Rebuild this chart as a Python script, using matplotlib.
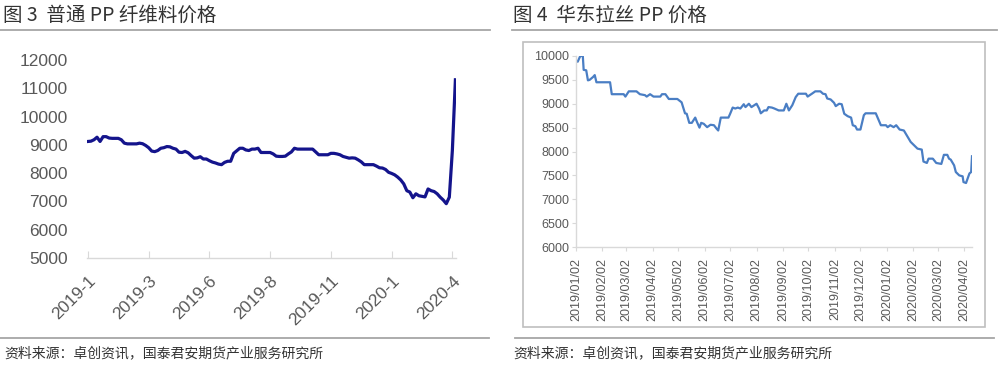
import matplotlib
matplotlib.use("Agg")
import matplotlib.pyplot as plt
from matplotlib.lines import Line2D
from matplotlib.patches import Rectangle
import pandas as pd
import numpy as np

plt.rcParams['font.family'] = ['Liberation Sans', 'Noto Sans CJK SC', 'DejaVu Sans']

# ---------------- Data: Fig 3 (普通 PP 纤维料价格), category axis ----------------
fiber_values = [
    9120, 9130, 9180, 9270, 9120, 9290, 9290, 9240, 9230, 9230,
    9230, 9180, 9060, 9035, 9035, 9035, 9035, 9060, 9040, 8980,
    8900, 8780, 8760, 8800, 8880, 8900, 8940, 8930, 8880, 8850,
    8740, 8730, 8770, 8720, 8620, 8530, 8540, 8580, 8500, 8500,
    8440, 8390, 8360, 8320, 8300, 8380, 8420, 8420, 8700, 8790,
    8880, 8880, 8820, 8800, 8850, 8850, 8880, 8730, 8730, 8730,
    8730, 8680, 8600, 8590, 8590, 8600, 8680, 8750, 8880, 8850,
    8850, 8850, 8850, 8850, 8850, 8750, 8650, 8650, 8650, 8650,
    8700, 8700, 8680, 8650, 8590, 8560, 8530, 8540, 8530, 8470,
    8400, 8300, 8300, 8300, 8300, 8250, 8190, 8180, 8130, 8030,
    7990, 7940, 7860, 7760, 7620, 7380, 7330, 7130, 7270, 7200,
    7180, 7160, 7440, 7380, 7350, 7270, 7150, 7050, 6920, 7150,
    8800, 11300,
]
fiber_tick_labels = ['2019-1', '2019-3', '2019-6', '2019-8', '2019-11', '2020-1', '2020-4']
fiber_yticks = [5000, 6000, 7000, 8000, 9000, 10000, 11000, 12000]

# ---------------- Data: Fig 4 (华东拉丝 PP 价格), date axis ----------------
raffia_dates = [
    '2019-01-02', '2019-01-04', '2019-01-07', '2019-01-10', '2019-01-11', '2019-01-14',
    '2019-01-16', '2019-01-18', '2019-01-22', '2019-01-24', '2019-01-26', '2019-02-11',
    '2019-02-13', '2019-02-27', '2019-03-01', '2019-03-05', '2019-03-14', '2019-03-18',
    '2019-03-24', '2019-03-26', '2019-03-30', '2019-04-03', '2019-04-11', '2019-04-13',
    '2019-04-17', '2019-04-21', '2019-05-01', '2019-05-06', '2019-05-10', '2019-05-12',
    '2019-05-15', '2019-05-18', '2019-05-22', '2019-05-24', '2019-05-27', '2019-05-29',
    '2019-06-01', '2019-06-05', '2019-06-09', '2019-06-13', '2019-06-16', '2019-06-18',
    '2019-06-21', '2019-06-30', '2019-07-02', '2019-07-05', '2019-07-08', '2019-07-11',
    '2019-07-14', '2019-07-18', '2019-07-20', '2019-07-24', '2019-07-27', '2019-08-02',
    '2019-08-05', '2019-08-07', '2019-08-11', '2019-08-14', '2019-08-16', '2019-08-20',
    '2019-08-23', '2019-08-28', '2019-09-03', '2019-09-06', '2019-09-09', '2019-09-13',
    '2019-09-17', '2019-09-20', '2019-09-29', '2019-10-01', '2019-10-06', '2019-10-10',
    '2019-10-16', '2019-10-19', '2019-10-22', '2019-10-24', '2019-10-28', '2019-11-01',
    '2019-11-03', '2019-11-07', '2019-11-10', '2019-11-13', '2019-11-17', '2019-11-21',
    '2019-11-23', '2019-11-26', '2019-11-28', '2019-12-02', '2019-12-06', '2019-12-08',
    '2019-12-20', '2019-12-26', '2020-01-01', '2020-01-03', '2020-01-06', '2020-01-10',
    '2020-01-13', '2020-01-17', '2020-01-22', '2020-01-26', '2020-01-30', '2020-02-03',
    '2020-02-07', '2020-02-12', '2020-02-14', '2020-02-18', '2020-02-20', '2020-02-25',
    '2020-02-29', '2020-03-06', '2020-03-09', '2020-03-13', '2020-03-15', '2020-03-17',
    '2020-03-21', '2020-03-23', '2020-03-27', '2020-03-31', '2020-04-01', '2020-04-04',
    '2020-04-08', '2020-04-10', '2020-04-11',
]
raffia_values = [
    9900, 9880, 10000, 10000, 9710, 9700,
    9490, 9500, 9560, 9600, 9450, 9450,
    9200, 9200, 9150, 9260, 9260, 9200,
    9180, 9150, 9200, 9150, 9150, 9200,
    9200, 9100, 9100, 9030, 8800, 8790,
    8600, 8600, 8710, 8620, 8500, 8600,
    8580, 8510, 8560, 8550, 8480, 8440,
    8710, 8710, 8790, 8920, 8900, 8920,
    8900, 8990, 8930, 9000, 8930, 9000,
    8900, 8800, 8860, 8860, 8930, 8920,
    8900, 8860, 8860, 9000, 8860, 8970,
    9140, 9210, 9210, 9150, 9210, 9260,
    9260, 9210, 9200, 9110, 9090, 9020,
    8950, 9000, 8990, 8790, 8740, 8710,
    8550, 8530, 8460, 8460, 8760, 8800,
    8800, 8550, 8550, 8510, 8550, 8510,
    8550, 8460, 8440, 8320, 8200, 8130,
    8060, 8040, 7790, 7760, 7850, 7850,
    7760, 7740, 7930, 7930, 7850, 7830,
    7710, 7570, 7500, 7480, 7360, 7340,
    7540, 7570, 7900,
]
raffia_tick_labels = ['2019/01/02', '2019/02/02', '2019/03/02', '2019/04/02', '2019/05/02',
                      '2019/06/02', '2019/07/02', '2019/08/02', '2019/09/02', '2019/10/02',
                      '2019/11/02', '2019/12/02', '2020/01/02', '2020/02/02', '2020/03/02',
                      '2020/04/02']
raffia_yticks = [6000, 6500, 7000, 7500, 8000, 8500, 9000, 9500, 10000]

W, H = 1000, 368
fig = plt.figure(figsize=(10, 3.68), dpi=100)
fig.patch.set_facecolor('white')

def fx(px):
    return px / W

def fy(py):
    return 1 - py / H

text_col = '#333333'
tick_col = '#595959'
cjk = ['Noto Sans CJK SC', 'DejaVu Sans']

# Titles
fig.text(fx(3), fy(15), '图 3  普通 PP 纤维料价格', family=cjk, fontsize=14, color=text_col,
         va='center', ha='left')
fig.text(fx(513), fy(15), '图 4  华东拉丝 PP 价格', family=cjk, fontsize=14, color=text_col,
         va='center', ha='left')

# Separator lines
for (x0, x1, y) in [(0, 490, 30), (512, 997, 30), (0, 489, 338), (515, 994, 338)]:
    fig.add_artist(Line2D([fx(x0), fx(x1)], [fy(y), fy(y)], color='#a6a6a6', lw=1.3))

# Source text
fig.text(fx(4), fy(353), '资料来源：卓创资讯，国泰君安期货产业服务研究所', family=cjk,
         fontsize=10, color=text_col, va='center', ha='left')
fig.text(fx(513), fy(353), '资料来源：卓创资讯，国泰君安期货产业服务研究所', family=cjk,
         fontsize=10, color=text_col, va='center', ha='left')

# ---------------- Left chart ----------------
L, R, T, B = 87, 456, 60, 258
ax1 = fig.add_axes([fx(L), fy(B), (R - L) / W, (B - T) / H])
idx = np.arange(len(fiber_values))
ax1.plot(idx, fiber_values, color='#14148c', lw=2.3, solid_joinstyle='round')
ax1.set_xlim(-0.3, 121.2)
ax1.set_ylim(5000, 12000)
ax1.set_yticks(fiber_yticks)
ax1.set_yticklabels([str(v) for v in fiber_yticks])
ax1.set_xticks(np.arange(0, 121, 20))
ax1.set_xticklabels(fiber_tick_labels, rotation=45, ha='right', rotation_mode='anchor')
for s in ['top', 'right', 'left']:
    ax1.spines[s].set_visible(False)
ax1.spines['bottom'].set_color('#d9d9d9')
ax1.spines['bottom'].set_linewidth(1.0)
ax1.tick_params(axis='y', length=0, pad=14, labelsize=12.5, labelcolor=tick_col)
ax1.tick_params(axis='x', direction='in', length=5, color='#d9d9d9', pad=11,
                labelsize=12.5, labelcolor=tick_col)
ax1.patch.set_alpha(0)

# ---------------- Right chart ----------------
fig.add_artist(Rectangle((fx(523), fy(327)), (985 - 523) / W, (327 - 42) / H,
                         fill=False, edgecolor='#bfbfbf', lw=1.2))
L2, R2, T2, B2 = 576, 972, 56, 247
ax2 = fig.add_axes([fx(L2), fy(B2), (R2 - L2) / W, (B2 - T2) / H])
d = pd.to_datetime(raffia_dates)
ax2.plot(d, raffia_values, color='#4a7ec4', lw=1.6)
ax2.set_xlim(pd.Timestamp('2019-01-02'), pd.Timestamp('2020-04-11'))
ax2.set_ylim(6000, 10000)
ax2.set_yticks(raffia_yticks)
ax2.set_yticklabels([str(v) for v in raffia_yticks])
tick_dates = pd.to_datetime([s.replace('/', '-') for s in raffia_tick_labels])
ax2.set_xticks(tick_dates)
ax2.set_xticklabels(raffia_tick_labels, rotation=90, ha='center', va='top')
for s in ['top', 'right']:
    ax2.spines[s].set_visible(False)
for s in ['left', 'bottom']:
    ax2.spines[s].set_color('#d9d9d9')
    ax2.spines[s].set_linewidth(1.0)
ax2.tick_params(axis='y', direction='out', length=3, color='#d9d9d9', pad=2,
                labelsize=9, labelcolor=tick_col)
ax2.tick_params(axis='x', direction='out', length=3, color='#d9d9d9', pad=5,
                labelsize=9, labelcolor=tick_col)
ax2.patch.set_alpha(0)

fig.savefig('out.png', dpi=100, facecolor='white')
